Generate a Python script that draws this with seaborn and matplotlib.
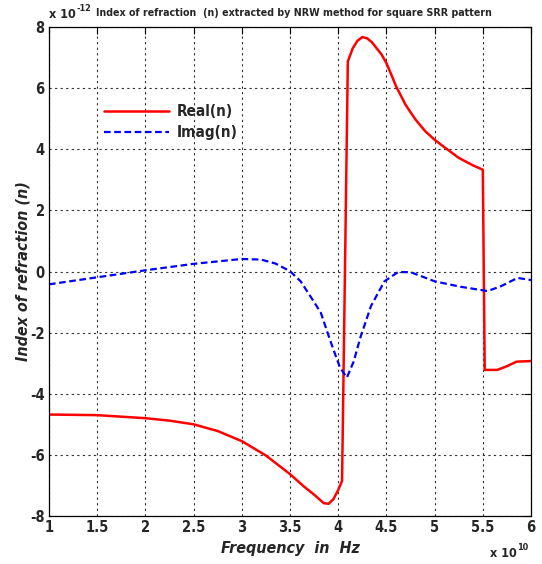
import numpy as np
import pandas as pd
import matplotlib
matplotlib.use("Agg")
import matplotlib.pyplot as plt
import seaborn as sns

# Frequency in units of 1e10 Hz, index values in units of 1e-12
freq_real = [1.0, 1.5, 2.0, 2.25, 2.5, 2.75, 3.0, 3.25, 3.5, 3.65, 3.75, 3.85, 3.9, 3.95,
             4.0, 4.04, 4.07, 4.1, 4.15, 4.2, 4.25, 4.3, 4.35, 4.4, 4.45, 4.5, 4.55, 4.6,
             4.7, 4.8, 4.9, 5.0, 5.1, 5.25, 5.4, 5.5, 5.52, 5.65, 5.75, 5.85, 6.0]
real_n = [-4.68, -4.7, -4.8, -4.88, -5.0, -5.22, -5.55, -6.02, -6.63, -7.05, -7.3, -7.58, -7.6,
          -7.45, -7.15, -6.85, 0.0, 6.87, 7.3, 7.55, 7.67, 7.63, 7.5, 7.3, 7.1, 6.82, 6.45, 6.06,
          5.45, 4.98, 4.6, 4.31, 4.07, 3.72, 3.47, 3.33, -3.22, -3.22, -3.1, -2.95, -2.93]

freq_imag = [1.0, 1.5, 2.0, 2.5, 3.0, 3.2, 3.35, 3.5, 3.61, 3.75, 3.82, 3.9, 3.95, 4.02, 4.09,
             4.16, 4.23, 4.34, 4.48, 4.62, 4.75, 5.0, 5.27, 5.55, 5.69, 5.86, 6.0]
imag_n = [-0.42, -0.19, 0.04, 0.25, 0.41, 0.39, 0.26, 0.01, -0.32, -1.0, -1.35, -2.1, -2.55,
          -3.15, -3.47, -2.95, -2.16, -1.13, -0.32, -0.02, -0.02, -0.32, -0.5, -0.64, -0.48,
          -0.21, -0.28]

x_ticks = [1, 1.5, 2, 2.5, 3, 3.5, 4, 4.5, 5, 5.5, 6]
y_ticks = [-8, -6, -4, -2, 0, 2, 4, 6, 8]

sns.set_style("white")
FONT = ["DejaVu Sans", "Liberation Sans"]
plt.rcParams["font.family"] = FONT
plt.rcParams["font.weight"] = "bold"
plt.rcParams["font.stretch"] = "condensed"

fig = plt.figure(figsize=(5.42, 5.64), dpi=100)
ax = fig.add_axes([49 / 542, 1 - 516 / 564, (531 - 49) / 542, (516 - 27) / 564])

df_real = pd.DataFrame({"f": freq_real, "n": real_n})
df_imag = pd.DataFrame({"f": freq_imag, "n": imag_n})

sns.lineplot(data=df_real, x="f", y="n", ax=ax, color="#ff0000", lw=1.8,
             estimator=None, sort=False, label="Real(n)")
sns.lineplot(data=df_imag, x="f", y="n", ax=ax, color="#0000ff", lw=1.6,
             linestyle=(0, (3, 1.6)), estimator=None, sort=False, label="Imag(n)")

ax.set_xlim(1, 6)
ax.set_ylim(-8, 8)
ax.set_xticks(x_ticks)
ax.set_xticklabels([f"{t:g}" for t in x_ticks], fontsize=10.5, fontweight="bold")
ax.set_yticks(y_ticks)
ax.set_yticklabels([f"{t:g}" for t in y_ticks], fontsize=10.5, fontweight="bold")
ax.tick_params(direction="in", length=5, width=0.8, color="black", top=True, right=True,
               pad=3)
ax.grid(True, color="#303030", linestyle=(0, (2, 3)), linewidth=0.8)
for s in ax.spines.values():
    s.set_color("black")
    s.set_linewidth(0.9)

ax.set_xlabel("Frequency  in  Hz", fontsize=11.5, fontweight="bold", style="italic", labelpad=4)
ax.set_ylabel("Index of refraction (n)", fontsize=11.5, fontweight="bold", style="italic",
              labelpad=0)
ax.set_title("Index of refraction  (n) extracted by NRW method for square SRR pattern",
             fontsize=7.7, fontweight="bold", pad=8, x=0.508)

# multiplier texts (MATLAB style)
t1 = ax.text(0.0, 1.013, "x 10", transform=ax.transAxes, fontsize=9,
             fontweight="bold", ha="left", va="bottom")
ax.annotate("-12", xy=(1, 1), xycoords=t1, xytext=(0.3, -3.5), textcoords="offset points",
            fontsize=6.5, fontweight="bold", ha="left", va="bottom")
t2 = ax.text(0.915, -0.064, "x 10", transform=ax.transAxes, fontsize=9,
             fontweight="bold", ha="left", va="top")
ax.annotate("10", xy=(1, 1), xycoords=t2, xytext=(0.3, -3.5), textcoords="offset points",
            fontsize=6.5, fontweight="bold", ha="left", va="bottom")

leg = ax.legend(loc="upper left", bbox_to_anchor=(0.085, 0.87), frameon=False,
                handlelength=4.3, handletextpad=0.5, labelspacing=0.4,
                prop={"family": FONT, "weight": "bold", "size": 11, "stretch": "condensed"})

fig.savefig("out.png", dpi=100)
